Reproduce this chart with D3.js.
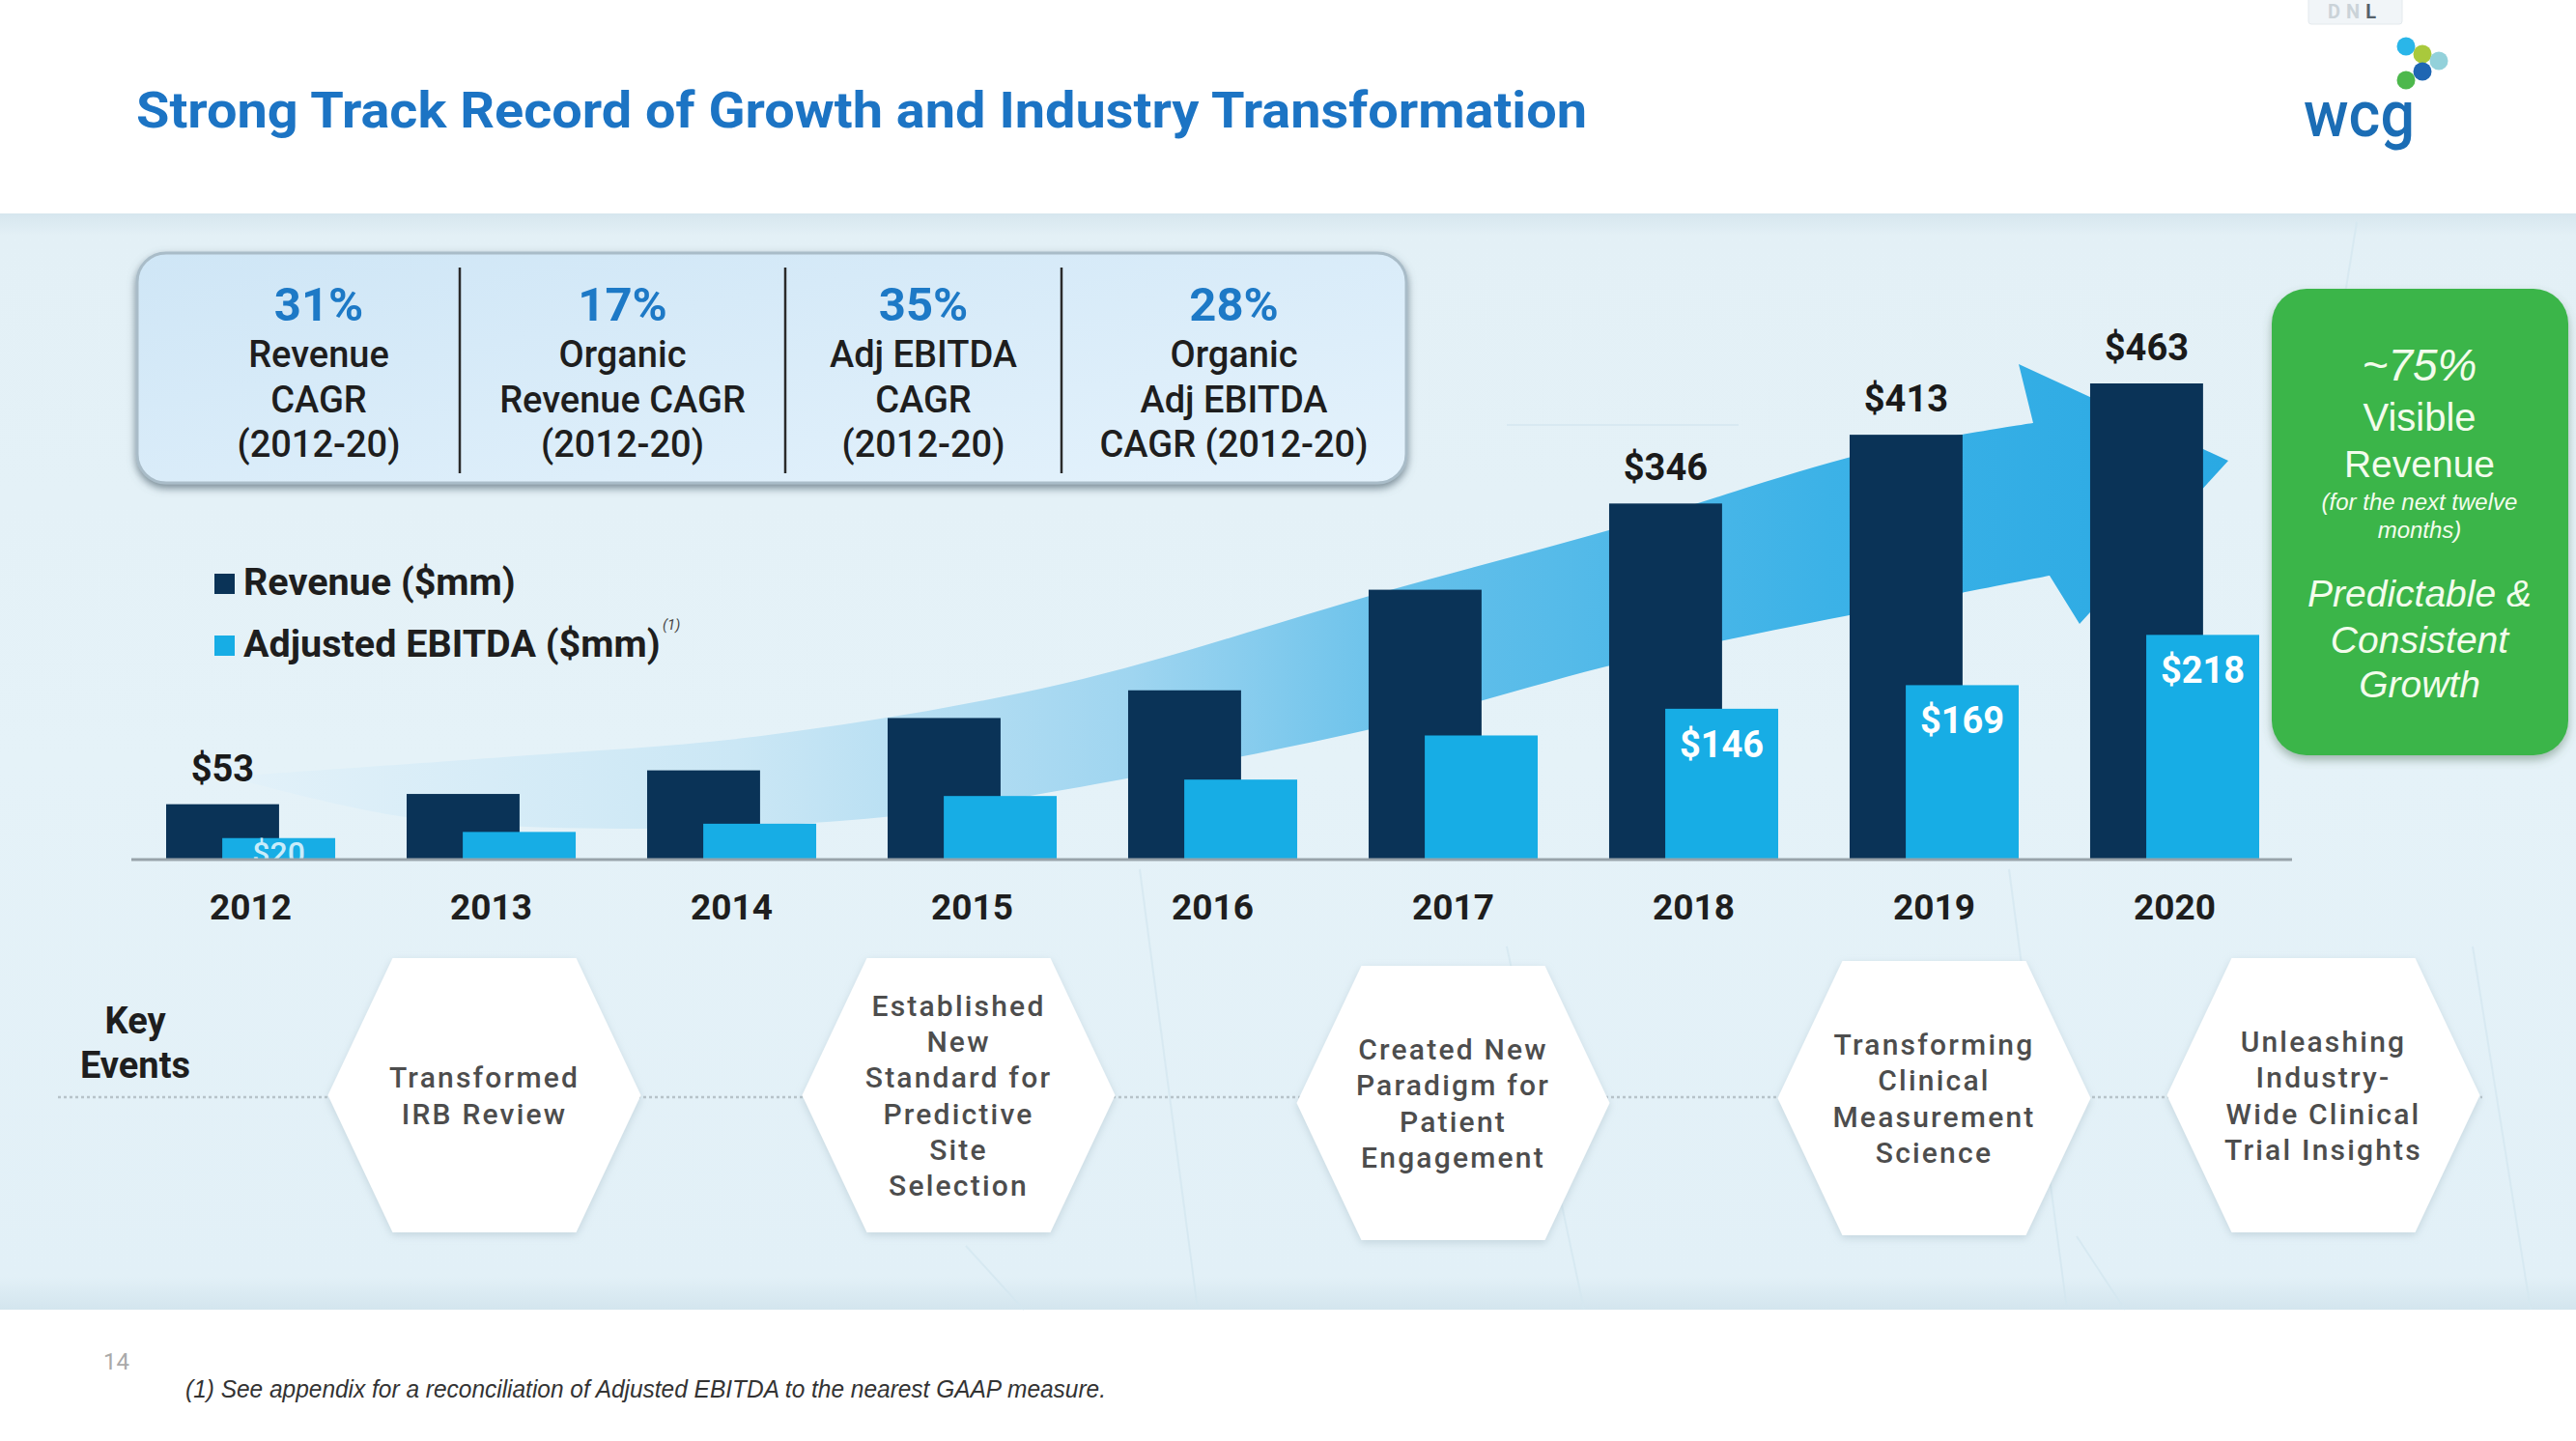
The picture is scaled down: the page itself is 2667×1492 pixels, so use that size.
<!DOCTYPE html>
<html>
<head>
<meta charset="utf-8">
<script src="https://cdn.jsdelivr.net/npm/d3@7"></script>
<style>
  html, body { margin: 0; padding: 0; background: #ffffff; }
  svg { display: block; }
</style>
</head>
<body>
<script>
// ---------------- DATA ----------------
const years = ["2012", "2013", "2014", "2015", "2016", "2017", "2018", "2019", "2020"];
const revenue = [53, 63, 86, 137, 164, 262, 346, 413, 463];
const ebitda = [20, 26, 34, 61, 77, 120, 146, 169, 218];
const revenueLabels = ["$53", "", "", "", "", "", "$346", "$413", "$463"];
const ebitdaLabels = ["$20", "", "", "", "", "", "$146", "$169", "$218"];
const seriesNames = ["Revenue ($mm)", "Adjusted EBITDA ($mm)"];
const cagrValues = ["31%", "17%", "35%", "28%"];
const cagrLabels = [
  ["Revenue", "CAGR", "(2012-20)"],
  ["Organic", "Revenue CAGR", "(2012-20)"],
  ["Adj EBITDA", "CAGR", "(2012-20)"],
  ["Organic", "Adj EBITDA", "CAGR (2012-20)"]
];
const eventYears = ["2013", "2015", "2017", "2019", "2020"];
const eventLabels = [
  ["Transformed", "IRB Review"],
  ["Established", "New", "Standard for", "Predictive", "Site", "Selection"],
  ["Created New", "Paradigm for", "Patient", "Engagement"],
  ["Transforming", "Clinical", "Measurement", "Science"],
  ["Unleashing", "Industry-", "Wide Clinical", "Trial Insights"]
];
const titleText = "Strong Track Record of Growth and Industry Transformation";
const greenLines = ["~75%", "Visible", "Revenue", "(for the next twelve", "months)", "Predictable &", "Consistent", "Growth"];
const footnote = "(1) See appendix for a reconciliation of Adjusted EBITDA to the nearest GAAP measure.";

// ---------------- SETUP ----------------
const W = 2667, H = 1492;
const C_REV = "#0a3357", C_EB = "#17ade5";
const svg = d3.select("body").append("svg").attr("width", W).attr("height", H);
const defs = svg.append("defs");

const bgGrad = defs.append("linearGradient").attr("id", "bgGrad").attr("x1", 0).attr("y1", 0).attr("x2", 0).attr("y2", 1);
[[0, "#d6e6ee"], [0.02, "#e3f0f6"], [0.5, "#e5f2f8"], [0.97, "#e2f0f7"], [1, "#d3e5ee"]].forEach(s =>
  bgGrad.append("stop").attr("offset", s[0]).attr("stop-color", s[1]));

const boxGrad = defs.append("linearGradient").attr("id", "boxGrad").attr("x1", 0).attr("y1", 0).attr("x2", 1).attr("y2", 1);
[[0, "#cfe6f6"], [1, "#e4f2fc"]].forEach(s => boxGrad.append("stop").attr("offset", s[0]).attr("stop-color", s[1]));

const arrowGrad = defs.append("linearGradient").attr("id", "arrowGrad")
  .attr("gradientUnits", "userSpaceOnUse").attr("x1", 250).attr("y1", 0).attr("x2", 2300).attr("y2", 0);
[[0, "#e2f1f9"], [0.25, "#cbe7f5"], [0.45, "#9fd5f0"], [0.6, "#62bfea"], [0.8, "#3cb2e7"], [1, "#2aa9e3"]].forEach(s =>
  arrowGrad.append("stop").attr("offset", s[0]).attr("stop-color", s[1]));

function shadow(id, dx, dy, sd, col, op) {
  const f = defs.append("filter").attr("id", id).attr("x", "-10%").attr("y", "-10%").attr("width", "130%").attr("height", "130%");
  f.append("feDropShadow").attr("dx", dx).attr("dy", dy).attr("stdDeviation", sd)
    .attr("flood-color", col).attr("flood-opacity", op);
}
shadow("boxShadow", 0, 4, 4, "#5d6f7b", 0.8);
shadow("greenShadow", 0, 5, 5, "#4a6a55", 0.45);
shadow("hexShadow", 0, 3, 4, "#9fb5c0", 0.45);

// backgrounds
svg.append("rect").attr("x", 0).attr("y", 0).attr("width", W).attr("height", H).attr("fill", "#ffffff");
svg.append("rect").attr("x", 0).attr("y", 221).attr("width", W).attr("height", 1135).attr("fill", "url(#bgGrad)");

// faint background geometry
const faint = svg.append("g").attr("stroke", "#d4e7f0").attr("stroke-width", 2).attr("fill", "none").attr("opacity", 0.8);
[[1180, 900, 1240, 1356], [1560, 980, 1640, 1356], [2080, 900, 2140, 1356], [2440, 230, 2380, 600],
 [1560, 440, 1800, 440], [2150, 1280, 2200, 1356], [2560, 980, 2620, 1356], [1000, 1290, 1060, 1356]].forEach(l =>
  faint.append("line").attr("x1", l[0]).attr("y1", l[1]).attr("x2", l[2]).attr("y2", l[3]));

// ---------------- TITLE & LOGO ----------------
svg.append("text").attr("x", 141).attr("y", 132)
  .attr("font-family", "Roboto, 'Noto Sans', sans-serif").attr("font-weight", 700).attr("font-size", 52)
  .attr("fill", "#1c74c4").attr("textLength", 1502).attr("lengthAdjust", "spacingAndGlyphs").text(titleText);

const logo = svg.append("g");
logo.append("rect").attr("x", 2390).attr("y", -4).attr("width", 97).attr("height", 29).attr("rx", 3)
  .attr("fill", "#f1f5f8").attr("stroke", "#e3e9ed");
const dnl = logo.append("text").attr("x", 2438).attr("y", 19).attr("text-anchor", "middle")
  .attr("font-family", "Roboto, sans-serif").attr("font-size", 20).attr("letter-spacing", 6).attr("font-weight", 700);
dnl.append("tspan").attr("fill", "#cbd3d8").text("DN");
dnl.append("tspan").attr("fill", "#56616a").text("L");
[[2491, 48, "#2ab6e9"], [2508, 56, "#a9c93c"], [2525, 63, "#93d1da"], [2508, 74, "#1f66b3"], [2491, 83, "#4db84c"]].forEach(d =>
  logo.append("circle").attr("cx", d[0]).attr("cy", d[1]).attr("r", 9.5).attr("fill", d[2]));
logo.append("text").attr("x", 2385).attr("y", 141).attr("font-family", "Roboto, sans-serif").attr("font-weight", 500)
  .attr("font-size", 66).attr("fill", "#1b6db5").attr("textLength", 115).attr("lengthAdjust", "spacingAndGlyphs").text("wcg");

// ---------------- CAGR BOX ----------------
const box = svg.append("g");
box.append("rect").attr("x", 142).attr("y", 262).attr("width", 1314).attr("height", 238).attr("rx", 30)
  .attr("fill", "url(#boxGrad)").attr("stroke", "#a9bcc8").attr("stroke-width", 3).attr("filter", "url(#boxShadow)");
const dividers = [476, 813, 1099];
dividers.forEach(x => box.append("line").attr("x1", x).attr("x2", x).attr("y1", 277).attr("y2", 490)
  .attr("stroke", "#2a2a2a").attr("stroke-width", 2.5));
const colEdges = [184].concat(dividers).concat([1456]);
cagrValues.forEach((v, i) => {
  const cx = (colEdges[i] + colEdges[i + 1]) / 2;
  box.append("text").attr("x", cx).attr("y", 332).attr("text-anchor", "middle")
    .attr("font-family", "Roboto, sans-serif").attr("font-weight", 700).attr("font-size", 49).attr("fill", "#1d79c6").text(v);
  cagrLabels[i].forEach((t, j) => {
    box.append("text").attr("x", cx).attr("y", 380 + j * 46.5).attr("text-anchor", "middle")
      .attr("font-family", "Roboto, sans-serif").attr("font-weight", 500).attr("font-size", 38).attr("fill", "#1e1e1e").text(t);
  });
});

// ---------------- SCALES ----------------
const x = d3.scaleBand().domain(years).range([172, 2339]).paddingInner(0.297).paddingOuter(0);
const bw = x.bandwidth();
const barW = bw * 0.668;
const ebOff = bw * 0.332;
const y = d3.scaleLinear().domain([0, 463]).range([889, 397]);

// ---------------- ARROW ----------------
const upper = [[250, 803], [533, 783], [788, 762], [1100, 708], [1432, 613], [1680, 545], [1929, 470], [2105, 438]];
const lower = [[2122, 596], [1929, 634], [1680, 686], [1432, 752], [1100, 818], [915, 846], [660, 858], [420, 846], [250, 808]];
const lineGen = d3.line().curve(d3.curveCatmullRom.alpha(0.5));
const upPath = lineGen(upper);
const lowPath = lineGen(lower).replace(/^M/, "L");
const arrowD = upPath + " L2090,377 L2307,477 L2153,646 " + lowPath + " Z";
svg.append("path").attr("d", arrowD).attr("fill", "url(#arrowGrad)");

// ---------------- LEGEND ----------------
const leg = svg.append("g");
[C_REV, C_EB].forEach((c, i) => {
  const by = 616 + i * 64;
  leg.append("rect").attr("x", 222).attr("y", by - 22).attr("width", 21).attr("height", 21).attr("fill", c);
  leg.append("text").attr("x", 252).attr("y", by).attr("font-family", "Roboto, sans-serif").attr("font-weight", 700)
    .attr("font-size", 39.5).attr("fill", "#1e1e1e").text(seriesNames[i]);
});
leg.append("text").attr("x", 686).attr("y", 652).attr("font-family", "Roboto, sans-serif").attr("font-style", "italic")
  .attr("font-size", 15).attr("fill", "#444").text("(1)");

// ---------------- BARS ----------------
const bars = svg.append("g");
bars.selectAll("rect.rev").data(years).join("rect").attr("class", "rev")
  .attr("x", d => x(d)).attr("y", (d, i) => y(revenue[i])).attr("width", barW)
  .attr("height", (d, i) => y(0) - y(revenue[i])).attr("fill", C_REV);
bars.selectAll("rect.eb").data(years).join("rect").attr("class", "eb")
  .attr("x", d => x(d) + ebOff).attr("y", (d, i) => y(ebitda[i])).attr("width", barW)
  .attr("height", (d, i) => y(0) - y(ebitda[i])).attr("fill", C_EB);

// clip for labels inside bars
defs.append("clipPath").attr("id", "aboveAxis").append("rect").attr("x", 0).attr("y", 0).attr("width", W).attr("height", y(0));

bars.selectAll("text.revl").data(years).join("text").attr("class", "revl")
  .attr("x", d => x(d) + barW / 2).attr("y", (d, i) => y(revenue[i]) - 24).attr("text-anchor", "middle")
  .attr("font-family", "Roboto, sans-serif").attr("font-weight", 700).attr("font-size", 38).attr("fill", "#1a1a1a")
  .text((d, i) => revenueLabels[i]);
bars.selectAll("text.ebl").data(years).join("text").attr("class", "ebl")
  .attr("x", d => x(d) + ebOff + barW / 2)
  .attr("y", (d, i) => i === 0 ? y(0) + 5 : y(ebitda[i]) + 50)
  .attr("text-anchor", "middle").attr("clip-path", "url(#aboveAxis)")
  .attr("font-family", "Roboto, sans-serif").attr("font-weight", (d, i) => i === 0 ? 500 : 700)
  .attr("font-size", (d, i) => i === 0 ? 32 : 38)
  .attr("fill", (d, i) => i === 0 ? "#c9ecfa" : "#ffffff")
  .text((d, i) => ebitdaLabels[i]);

// axis baseline
svg.append("line").attr("x1", 136).attr("x2", 2373).attr("y1", y(0) + 1).attr("y2", y(0) + 1)
  .attr("stroke", "#98a3aa").attr("stroke-width", 3);

// year labels via axis
const xAxis = d3.axisBottom(x).tickSize(0).tickPadding(0);
const ax = svg.append("g").attr("transform", `translate(0, ${y(0)})`).call(xAxis);
ax.select(".domain").remove();
ax.selectAll(".tick text").attr("dy", 0).attr("y", 63)
  .attr("font-family", "Roboto, sans-serif").attr("font-weight", 700).attr("font-size", 37).attr("fill", "#1e1e1e");

// ---------------- KEY EVENTS ----------------
const ev = svg.append("g");
ev.append("line").attr("x1", 60).attr("x2", 2570).attr("y1", 1136).attr("y2", 1136)
  .attr("stroke", "#b7c3c9").attr("stroke-width", 2.5).attr("stroke-dasharray", "3 3");
ev.append("text").attr("x", 140).attr("y", 1070).attr("text-anchor", "middle")
  .attr("font-family", "Roboto, sans-serif").attr("font-weight", 700).attr("font-size", 38).attr("fill", "#1e1e1e").text("Key");
ev.append("text").attr("x", 140).attr("y", 1116).attr("text-anchor", "middle")
  .attr("font-family", "Roboto, sans-serif").attr("font-weight", 700).attr("font-size", 38).attr("fill", "#1e1e1e").text("Events");

const hexOffsets = [-7, -14, 0, 0, 154];
const hexDy = [0, 0, 8, 3, 0];
eventYears.forEach((yr, i) => {
  const cx = x(yr) + bw / 2 + hexOffsets[i];
  const cy = 1134 + hexDy[i];
  const HW = 162, hw = 95, HH = 142;
  const pts = [[cx - hw, cy - HH], [cx + hw, cy - HH], [cx + HW, cy], [cx + hw, cy + HH], [cx - hw, cy + HH], [cx - HW, cy]];
  ev.append("path").attr("d", "M" + pts.map(p => p.join(",")).join("L") + "Z")
    .attr("fill", "#ffffff").attr("filter", "url(#hexShadow)");
  const lines = eventLabels[i];
  const lh = 37.2;
  const y0 = cy - (lines.length - 1) * lh / 2 + 11;
  lines.forEach((t, j) => {
    ev.append("text").attr("x", cx).attr("y", y0 + j * lh).attr("text-anchor", "middle")
      .attr("font-family", "Roboto, sans-serif").attr("font-weight", 500).attr("font-size", 30)
      .attr("letter-spacing", 2.2).attr("fill", "#4d4d4d").text(t);
  });
});

// ---------------- GREEN BOX ----------------
const g = svg.append("g");
g.append("rect").attr("x", 2352).attr("y", 299).attr("width", 307).attr("height", 483).attr("rx", 36)
  .attr("fill", "#3bb54a").attr("filter", "url(#greenShadow)");
const gSpec = [
  [394, 46, "italic", 400], [446, 40, "normal", 400], [494, 39, "normal", 400],
  [528, 24, "italic", 400], [557, 24, "italic", 400],
  [628, 39, "italic", 400], [676, 39, "italic", 400], [722, 39, "italic", 400]
];
greenLines.forEach((t, i) => {
  g.append("text").attr("x", 2505).attr("y", gSpec[i][0]).attr("text-anchor", "middle")
    .attr("font-family", "'Liberation Sans', Arial, sans-serif").attr("font-size", gSpec[i][1])
    .attr("font-style", gSpec[i][2]).attr("font-weight", gSpec[i][3]).attr("fill", "#f3fcec").text(t);
});

// ---------------- FOOTER ----------------
svg.append("text").attr("x", 107).attr("y", 1418).attr("font-family", "Roboto, sans-serif").attr("font-size", 24)
  .attr("fill", "#a9a9a9").text("14");
svg.append("text").attr("x", 192).attr("y", 1447).attr("font-family", "'Liberation Sans', Arial, sans-serif")
  .attr("font-style", "italic").attr("font-size", 25).attr("fill", "#333333")
  .attr("textLength", 953).attr("lengthAdjust", "spacingAndGlyphs").text(footnote);
</script>
</body>
</html>
